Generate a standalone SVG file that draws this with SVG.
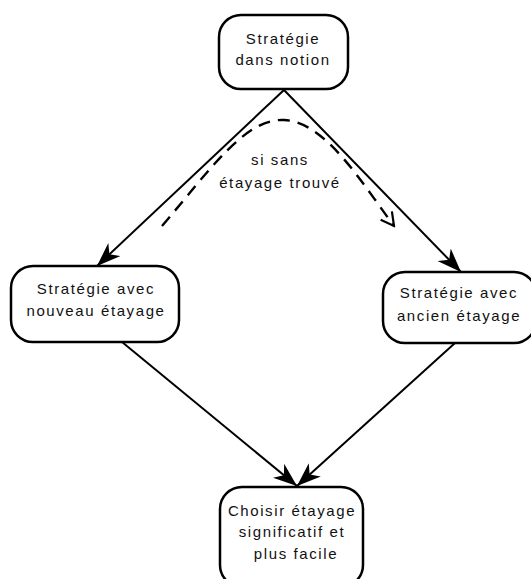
<svg xmlns="http://www.w3.org/2000/svg" width="531" height="579" viewBox="0 0 531 579">
<style>
.node rect{fill:#fff;stroke:#000;stroke-width:2.5}
text{font-family:"Liberation Sans",Arial,sans-serif;font-size:15px;letter-spacing:1.6px;fill:#111;text-anchor:middle}
.edge{stroke:#000;stroke-width:2;fill:none}
.dash{stroke:#000;stroke-width:2.4;fill:none;stroke-dasharray:12 8}
</style>
<defs>
<marker id="ah" viewBox="0 0 24 18" refX="24" refY="9" markerWidth="24" markerHeight="18" markerUnits="userSpaceOnUse" orient="auto">
<path d="M0,0 L24,9 L0,18 L7,9 Z" fill="#000"/>
</marker>
<marker id="oa" viewBox="0 0 16 16" refX="14" refY="8" markerWidth="16" markerHeight="16" markerUnits="userSpaceOnUse" orient="auto">
<path d="M1,1 L14,8 L1,15" fill="none" stroke="#000" stroke-width="2.2"/>
</marker>
</defs>
<g id="connectors">
<line class="edge" x1="284" y1="90" x2="97" y2="266" marker-end="url(#ah)"/>
<line class="edge" x1="284" y1="90" x2="461" y2="272" marker-end="url(#ah)"/>
<line class="edge" x1="122" y1="342" x2="297" y2="486" marker-end="url(#ah)"/>
<line class="edge" x1="455" y1="343" x2="297" y2="486" marker-end="url(#ah)"/>
<path class="dash" d="M162,226 C210,170 245,118 284,120 C325,122 360,180 394,226" marker-end="url(#oa)"/>
<text x="280" y="165">si sans</text>
<text x="280" y="188">étayage trouvé</text>
</g>
<g id="n_top" class="node">
<rect x="219" y="15" width="129" height="74" rx="22"/>
<text x="283" y="44">Stratégie</text>
<text x="283" y="65">dans notion</text>
</g>
<g id="n_left" class="node">
<rect x="11" y="266" width="168" height="76" rx="22"/>
<text x="96" y="294">Stratégie avec</text>
<text x="96" y="316">nouveau étayage</text>
</g>
<g id="n_right" class="node">
<rect x="383" y="272" width="153" height="71" rx="22"/>
<text x="459" y="298">Stratégie avec</text>
<text x="459" y="321">ancien étayage</text>
</g>
<g id="n_bottom" class="node">
<rect x="220" y="487" width="143" height="100" rx="22"/>
<text x="292" y="516">Choisir étayage</text>
<text x="292" y="537">significatif et</text>
<text x="296" y="559">plus facile</text>
</g>
</svg>
